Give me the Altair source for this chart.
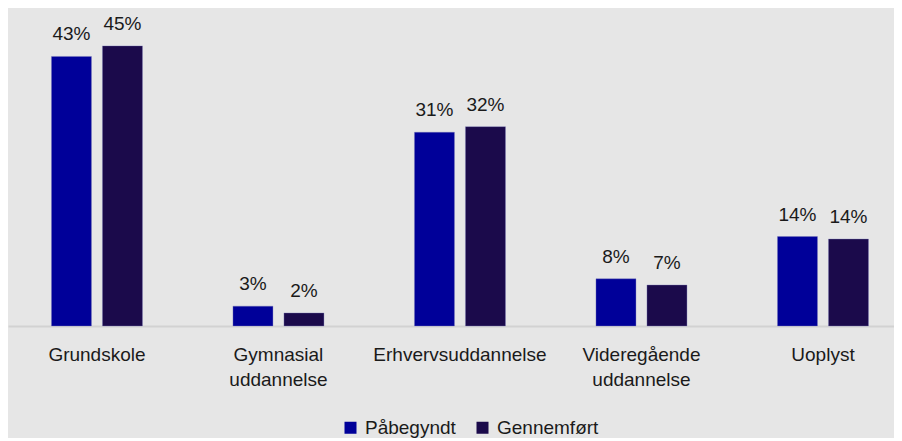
import altair as alt
import pandas as pd

categories = ["Grundskole", "Gymnasial uddannelse", "Erhvervsuddannelse",
              "Videregående uddannelse", "Uoplyst"]
series = ["Påbegyndt", "Gennemført"]
started = [43.4, 3.2, 31.2, 7.6, 14.4]
completed = [45.1, 2.1, 32.1, 6.6, 14.0]
colors = ["#000099", "#1b0a4b"]

rows = []
for c, a, b in zip(categories, started, completed):
    rows.append({"cat": c, "series": series[0], "value": a})
    rows.append({"cat": c, "series": series[1], "value": b})
df = pd.DataFrame(rows)

FONT = "Liberation Sans, Arial, sans-serif"
TXT = "#1a1a1a"
FS = 19

x = alt.X("cat:N", sort=categories, title=None,
          scale=alt.Scale(paddingInner=0.4986, paddingOuter=0.19, align=0.63),
          axis=alt.Axis(labelAngle=0, labelExpr="split(datum.label, ' ')",
                        labelFontSize=FS, labelFont=FONT, labelColor=TXT,
                        labelLineHeight=25, labelPadding=19, ticks=False,
                        labelLimit=0, domainColor="#d2d2d2", domainWidth=2,
                        grid=False, labelBaseline="top"))
xo = alt.XOffset("series:N", sort=series,
                 scale=alt.Scale(paddingInner=0.2157, paddingOuter=0))
y = alt.Y("value:Q", scale=alt.Scale(domain=[0, 51.2]), axis=None)

bars = alt.Chart(df).mark_bar(stroke="#7a7ab8", strokeWidth=0.6, strokeOpacity=0.6).encode(
    x=x, xOffset=xo, y=y,
    color=alt.Color("series:N", sort=series,
                    scale=alt.Scale(domain=series, range=colors),
                    legend=alt.Legend(title=None, orient="none", legendX=333, legendY=410,
                                      direction="horizontal", symbolType="square",
                                      symbolSize=144, symbolStrokeWidth=0,
                                      labelFontSize=FS, labelFont=FONT, labelColor=TXT,
                                      labelOffset=5, columnPadding=17, padding=0)),
)

labels = alt.Chart(df).transform_calculate(
    label="format(datum.value, '.0f') + '%'"
).mark_text(baseline="alphabetic", dy=-16, fontSize=FS, font=FONT, color=TXT).encode(
    x=x, xOffset=xo, y=y, text="label:N"
)

chart = alt.layer(bars, labels).properties(
    width=886, height=318, padding=0, background="#e6e6e6"
).configure_view(stroke=None)

chart.save("out.html", embed_options={"renderer": "svg", "actions": False})
